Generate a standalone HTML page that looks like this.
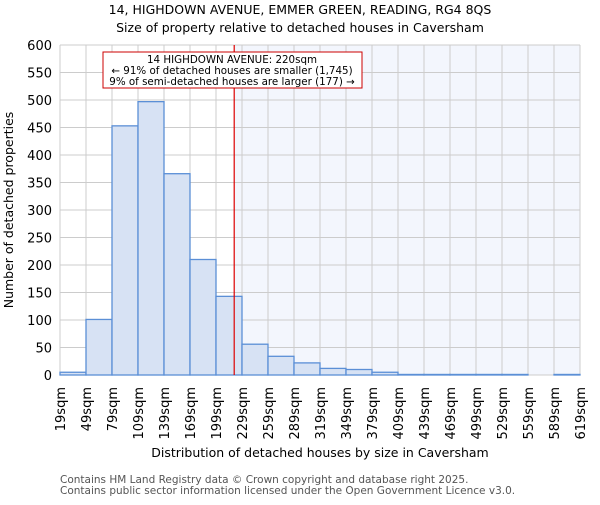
<!DOCTYPE html>
<html><head><meta charset="utf-8"><style>
body{margin:0;background:#fff;}
svg{font-family:"DejaVu Sans","Liberation Sans",sans-serif;}
</style></head><body>
<svg id="chart" width="600" height="500" xmlns="http://www.w3.org/2000/svg">
<text x="300" y="14" text-anchor="middle" font-size="12.5">14, HIGHDOWN AVENUE, EMMER GREEN, READING, RG4 8QS</text>
<text x="300" y="32" text-anchor="middle" font-size="12.5">Size of property relative to detached houses in Caversham</text>
<g id="plot"></g>
<text x="320" y="457" text-anchor="middle" font-size="12.5">Distribution of detached houses by size in Caversham</text>
<text transform="translate(13,210) rotate(-90)" text-anchor="middle" font-size="12.5">Number of detached properties</text>
<text x="60" y="483" font-size="10.5" fill="#555">Contains HM Land Registry data © Crown copyright and database right 2025.</text>
<text x="60" y="494" font-size="10.5" fill="#555">Contains public sector information licensed under the Open Government Licence v3.0.</text>
</svg>
<script>
const binEdges=[19,49,79,109,139,169,199,229,259,289,319,349,379,409,439,469,499,529,559,589,619];
const counts=[5,101,453,497,366,210,143,56,34,22,12,10,5,1,1,1,1,1,0,1];
const yTicks=[0,50,100,150,200,250,300,350,400,450,500,550,600];
const markerValue=220;
const X0=60,X1=580,Y0=375,Y1=45;
const xs=v=>X0+(v-19)/(619-19)*(X1-X0);
const ys=v=>Y0-(v/600)*(Y0-Y1);
const NS="http://www.w3.org/2000/svg";
const g=document.getElementById('plot');
function mk(t,a){const e=document.createElementNS(NS,t);for(const k in a)e.setAttribute(k,a[k]);g.appendChild(e);return e;}
let r=mk('rect',{x:xs(markerValue),y:Y1,width:X1-xs(markerValue),height:Y0-Y1,fill:'#f3f6fd'});


yTicks.forEach(t=>{
 let l=mk('line',{x1:X0,x2:X1,y1:ys(t),y2:ys(t),stroke:'#cccccc','stroke-width':1});
 
 
 let tx=mk('text',{x:X0-8,y:ys(t)+5,'text-anchor':'end','font-size':13});
 tx.textContent=t;
 
 
});
binEdges.forEach(b=>{
 let l=mk('line',{x1:xs(b),x2:xs(b),y1:Y1,y2:Y0,stroke:'#cccccc','stroke-width':1});
 
 
 let tx=mk('text',{transform:`translate(${xs(b)+5},${Y0+12}) rotate(-90)`,'text-anchor':'end','font-size':13});
 tx.textContent=b+'sqm';
 
 
});
counts.forEach((c,i)=>{
 if(c<=0)return;
 let b=mk('rect',{x:xs(binEdges[i]),y:ys(c),width:xs(binEdges[i+1])-xs(binEdges[i]),height:Y0-ys(c),fill:'#d7e2f4',stroke:'#5b8fd6','stroke-width':1.3});
 
 
});
let ml=mk('line',{x1:xs(markerValue),x2:xs(markerValue),y1:Y1,y2:Y0,stroke:'#dd0000','stroke-width':1.2});


let box=mk('rect',{x:103,y:52,width:259,height:36,fill:'#fff',stroke:'#cc0000','stroke-width':1});


["14 HIGHDOWN AVENUE: 220sqm","← 91% of detached houses are smaller (1,745)","9% of semi-detached houses are larger (177) →"].forEach((s,i)=>{
 let t=mk('text',{x:232,y:63+i*11,'text-anchor':'middle','font-size':10.3});
 t.textContent=s;
 
 
});
</script>
</body></html>
